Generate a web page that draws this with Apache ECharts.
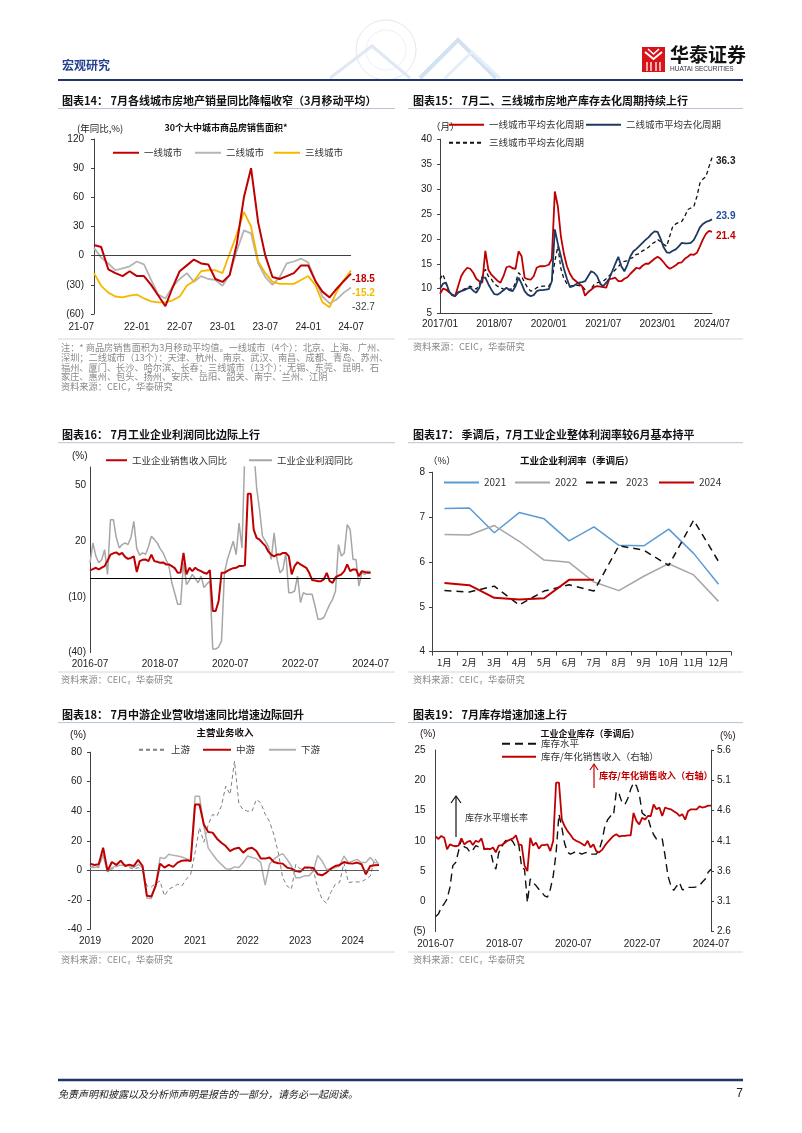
<!DOCTYPE html>
<html><head><meta charset="utf-8">
<script src="https://cdn.jsdelivr.net/npm/echarts@6/dist/echarts.min.js"></script>
<style>html,body{margin:0;padding:0;background:#fff}#c{width:802px;height:1133px}</style>
</head><body><div id="c"></div>
<script>
// ---------- DATA ----------
// Chart 14: 2021-07 .. 2024-07 (monthly)
const c14Tier1 = [11, 9, -14, -18, -21, -16, -21, -21, -30, -41, -52, -33, -16, -10, -4, -8, -9, -24, -27, -20, 12, 60, 90, 34, 0, -22, -24, -21, -18, -10, -10, -26, -37, -43, -34, -26, -18.5];
const c14Tier2 = [8, -2, -8, -15, -13, -11, -6, -9, -25, -40, -44, -32, -24, -18, -27, -21, -24, -25, -31, -20, 5, 26, 23, -8, -22, -30, -22, -8, -6, -3, -7, -25, -42, -49, -45, -38, -32.7];
const c14Tier3 = [-18, -31, -38, -42, -43, -41, -40, -44, -47, -48, -48, -46, -42, -31, -26, -16, -15, -15, -18, 2, 22, 45, 30, -6, -18, -27, -29, -29, -29, -25, -21, -30, -48, -53, -37, -25, -15.2];
// Chart 15: 2017/01 .. 2024/07
const c15Tier1 = [9, 10, 9.8, 9.3, 8.8, 8.5, 10.5, 12.5, 13.5, 14.2,
  14, 13.2, 12, 11.5, 11.2, 17.6, 13.8, 12.8, 12.2, 11.6,
  11.2, 12.5, 14.3, 14.5, 14.1, 14, 17.5, 16.5, 12.2, 11.9,
  11.8, 12.5, 14.2, 14.5, 14.5, 14.6, 14.8, 16, 29.5, 26.5,
  20.5, 17, 14.5, 13, 12, 11.5, 11, 10.5, 8.6, 9.3,
  9.8, 10.3, 10.5, 10.4, 10.3, 10.2, 11.9, 12, 12.2, 11.5,
  11.5, 12, 12.3, 13, 13.6, 14.2, 14, 14.6, 15, 15,
  15.5, 16, 16.4, 16, 15.3, 14.5, 14, 14.3, 14.7, 15.2,
  15.3, 16, 16.4, 16.9, 16.8, 17.2, 18.5, 19.9, 21, 21.6,
  21.4];
const c15Tier2 = [10, 11, 11.2, 9.5, 8.7, 8.5, 9.2, 9.5, 9.7, 10,
  10.2, 9.6, 9.2, 10.2, 12.2, 12.2, 10.9, 9.8, 8.9, 8.8,
  9.2, 9.7, 10.2, 9.7, 9.5, 10.5, 12.2, 11, 9.5, 8.8,
  8.5, 8.7, 9.5, 9.7, 9.7, 9.8, 9.9, 11.5, 21.9, 19,
  16.5, 14, 12, 10.3, 10.5, 10.9, 11.2, 11.3, 11.5, 12.5,
  13.5, 13.2, 12.5, 11, 10.5, 11.2, 12, 13.5, 15, 16.4,
  14.5, 13.5, 14.8, 16.5, 17.5, 18, 18.6, 19.2, 19.8, 20.3,
  21, 21.5, 21.4, 20, 18.3, 17.3, 17.2, 17.6, 17.9, 18.5,
  19.2, 19.1, 19.1, 19.2, 19.8, 21, 22.3, 23, 23.4, 23.6,
  23.9];
const c15Tier3 = [11.9, 12.9, 11, 9.2, 8.8, 8.5, 9.3, 9.6, 9.9, 10.2,
  10.5, 10.2, 9.9, 10.8, 12.5, 13.9, 12.5, 11.9, 11, 10.5,
  10.2, 9.9, 9.8, 9.9, 9.9, 11.2, 13.2, 12.5, 11.2, 10.2,
  9.5, 9.7, 10.2, 10.4, 10.5, 10.5, 10.5, 11.5, 15.5, 18.5,
  14, 12, 11, 10.5, 10.6, 10.7, 10.6, 10.5, 9.8, 9.2,
  10, 10.8, 11.2, 11.3, 11.5, 12, 12.6, 13.2, 13.8, 14.4,
  15.2, 15.5, 15.6, 16.1, 16.3, 16.9, 17, 17.6, 17.9, 18.3,
  19, 19.3, 19.9, 19.4, 18.9, 18.5, 20.5, 22.5, 23, 23.3,
  23.5, 24.5, 25.9, 26.2, 26.5, 28.5, 31.2, 32, 32.5, 34.5,
  36.3];
// Chart 16: 2016-07 .. 2024-07
const c16Revenue = [4.3, 5, 5.7, 4.8, 5.8, 6.6, 9.5, 12.8, 13.5, 14,
  12.8, 13.7, 11.6, 10.5, 11, 11.9, 3.4, 9.3, 10, 10.2,
  9.3, 12.8, 9.3, 8.9, 8.4, 8.6, 7.5, 7.5, 6.6, 5.5,
  3, 3.2, 13.7, 2.1, 5.7, 3.9, 5.7, 4.5, 3.9, 3,
  2.5, 4.5, -17.6, -17.6, -12.2, 3, 3, 4, 4.8, 5.5,
  5.7, 6.6, 6.6, 7, 45.6, 45.6, 26.3, 21.8, 20.9, 19.1,
  17.5, 14.5, 12.8, 11.9, 12.8, 12.8, 13.7, 13.7, 12, 2.1,
  6.6, 8.7, 7.5, 6.6, 5.7, 3, -0.9, -1.2, -1.5, -1.5,
  -0.5, 3, -1.5, -2.4, 0.5, 1.5, 2.1, 3.9, 7.5, 3.9,
  4.8, 4.8, 1.2, 3.9, 3.4, 3, 3];
const c16Profit = [8.4, 19.1, 12, 8.4, 10, 15.5, 2.1, 31.6, 31.6, 22,
  16.4, 18.2, 19.1, 18.2, 22, 30.7, 16, 12.5, 13.7, 13,
  17, 22.7, 21, 19.1, 16, 13.7, 10, 6.6, -2.4, -8,
  -14, -14, 8.4, -3.3, -1, 2.1, 0, -2.4, 1.2, -5,
  -3, -1.5, -38.1, -38.1, -37, -33.7, 3, 10.2, 15, 20,
  12.8, 29.8, 16.4, 70, 110, 90, 70, 49, 37, 22.7,
  20, 17.3, 10.2, 24.5, 10.2, 3, 4.8, 13.7, -7.7, -7.7,
  -6.8, 1.2, -13, -7.7, -8.6, -8.6, -8.6, -15, -22, -22,
  -21.1, -17.6, -14, -11.3, -6.8, 18.2, 12, 13.7, 29, 26.3,
  10.2, 10.2, -4.1, 3, 2.1, 3.9, 3.4];
// Chart 17: profit margin by month
const c17Months = ['1月','2月','3月','4月','5月','6月','7月','8月','9月','10月','11月','12月'];
const c17Y2021 = [7.19, 7.2, 6.65, 7.1, 6.96, 6.47, 6.78, 6.37, 6.36, 6.73, 6.19, 5.5];
const c17Y2022 = [6.61, 6.6, 6.81, 6.46, 6.04, 5.99, 5.55, 5.36, 5.68, 5.96, 5.71, 5.12];
const c17Y2023 = [5.36, 5.33, 5.46, 5.04, 5.35, 5.49, 5.35, 6.36, 6.26, 5.92, 6.93, 6.01];
const c17Y2024 = [5.53, 5.48, 5.2, 5.16, 5.19, 5.6, 5.6];
// Chart 18: 2019-01 .. 2024-07
const c18Up = [1.8, 2.9, 1.8, 10.8, 0.2, 0.7, 2.3, 4, 2.9, 1.8, 0.7, 1.8, -0.5,
  -10.6, -11.3, -9, -7.2, -17.3, -12.8, -11.3, -9.5, -10.6, -6.1, -2.7,
  12, 29, 19, 31, 37.8, 36.7, 43.5, 57, 51.4, 73.9, 45, 41, 40, 40, 48, 45.7, 38, 33, 24, 12, -5, -10.6, -12.8, 4, 1, 2, 1, 0, -12, -19.6, -22.3, -15, -9.5, -8.3, 5, -8.3, -7.9, -7.9, -7.9, -6, -4, 8, 4];
const c18Mid = [4.5, 3.6, 4, 15.3, -0.5, 5.6, 3.6, 6.5, 2.9, 3.8, 2.9, 7, 2.9,
  -17.3, -17.8, -10.6, 4.5, 1.8, 3.6, 2.3, 5.2, 6.5, 6.8, 6.3,
  44.6, 44.6,
  31, 25.9, 25.5, 21.4, 18.7, 16.4, 13, 14.6, 15.3, 11.9, 14.6, 15.3, 13, 7.9, 7.9, 8.6,
  5.6, 4.7, 4.5, 1.8, 1.1, -0.5, -1.1, 1.8, 1.8, 1.6, -2.7, -3.4, -1.6, 1.1, 2.9, 3.6, 5.6, 4.7, 4.5, 5.2, 4.1, -2.7, 2.9, 3.4, 3.6];
const c18Down = [1.8, 1.8, 2.9, 10, -1.1, 1.8, 2.9, 3.4, 3.6, 2.9, 1.8, 4, 1.8,
  -18.9, -19.1, -9.5, 8.6, 7.9, 10.8, 10.1, 9.7, 9, 7.9, 6.3,
  50.2, 50.2, 30, 15, 10.8, 7, 4, 1.1, 0.7, 2.3, 1.8, 5.2, 9.7, 8.6, 7.9, 5.2, -10, 4, 7.4, 9.7, 11.3, 7.4, 2.9, -5, -5, -3.8, -3.8, -0.5, 10.1, 6.3, 0.7, 0.7, 1.8, 2.9, 9.7, 5.2, 6.3, 7.4, 5.2, 5.2, 8.6, 5.2, 4.7];
// Chart 19: 2016-07 .. 2024-07
const c19Level = [-2.5, -2.1, -1, -0.4, 0.4, 2.3, 5.9, 6.4, 8.3, 10.3,
  9, 8.8, 8.1, 8.5, 9.2, 9, 8.9, 8.6, 8.7, 8.6,
  6.5, 5.3, 8, 8.9, 9.8, 10.3, 10.4, 9.8, 8.9, 9.4,
  5.6, 5.3, -0.2, 3.7, 3.1, 2.6, 2, 1.5, 0.9, 0.7,
  2, 4.2, 8, 14.4, 12.2, 9.5, 8.1, 7.8, 8, 8.3,
  8, 7.8, 8, 8.1, 7.8, 7.8, 7.8, 8.5, 10, 12.4,
  13.5, 14.1, 14.1, 18.2, 17.7, 16.3, 16, 17, 18.5, 19.6,
  19.1, 17.7, 14.6, 14.2, 13.8, 12.2, 11, 10.3, 10.3, 10.3,
  7.5, 4.2, 2.6, 1.8, 2.5, 3.1, 1.9, 2, 2.3, 2.3,
  2.3, 2.4, 2.6, 3.2, 3.7, 4.8, 5.3];
const c19Ratio = [4.17, 4.13, 4.18, 4.15, 3.96, 4.04, 4.02, 4.01, 4.02, 4.14,
  4.04, 4.08, 4.1, 4.03, 4.1, 4.08, 4.14, 3.96, 3.97, 3.96,
  3.99, 3.91, 4.02, 4.03, 4.06, 4.1, 4.12, 4.14, 4.19, 4.04,
  4.03, 3.69, 3.6, 4.15, 4.02, 4.07, 3.97, 4.03, 4.03, 4.04,
  3.93, 4.1, 5.06, 5.06, 4.45, 4.34, 4.26, 4.2, 4.13, 4.1,
  4.08, 4.05, 4.02, 4.1, 3.99, 4.04, 3.93, 3.91, 3.95, 4.02,
  4.08, 4.13, 4.18, 4.21, 4.17, 4.18, 4.18, 4.19, 4.19, 4.56,
  4.43, 4.37, 4.48, 4.45, 4.51, 4.51, 4.7, 4.62, 4.65, 4.51,
  4.65, 4.63, 4.62, 4.59, 4.56, 4.51, 4.54, 4.45, 4.59, 4.62,
  4.62, 4.62, 4.67, 4.65, 4.66, 4.68, 4.68];

// month category builder
function months(y, m, n, fmt) {
  const out = [];
  for (let i = 0; i < n; i++) {
    out.push(fmt(y, m));
    m++; if (m > 12) { m = 1; y++; }
  }
  return out;
}
const pad = v => (v < 10 ? '0' + v : '' + v);
const c14Cats = months(2021, 7, c14Tier1.length, (y, m) => String(y).slice(2) + '-' + pad(m));
const c15Cats = months(2017, 1, c15Tier1.length, (y, m) => y + '/' + pad(m));
const c16Cats = months(2016, 7, c16Revenue.length, (y, m) => y + '-' + pad(m));
const c18Cats = months(2019, 1, c18Mid.length, (y, m) => y + '-' + pad(m));
const c19Cats = months(2016, 7, c19Level.length, (y, m) => y + '-' + pad(m));

// ---------- STYLE ----------
const NUM = '"Liberation Sans", Arial, sans-serif';
const CJK = '"Noto Sans CJK SC", "Noto Sans", sans-serif';
const RED = '#c00000';
const YEL = '#f5b800';
const NAVY = '#1f3864';
const AX = '#404040';

const paren = v => (v < 0 ? '(' + (-v) + ')' : '' + v);

function xCat(gi, data, interval, opt) {
  opt = opt || {};
  return Object.assign({
    type: 'category', gridIndex: gi, data: data, boundaryGap: false,
    axisLine: { show: false, onZero: false, lineStyle: { color: AX } },
    axisTick: { show: false },
    axisLabel: { interval: interval, fontSize: 10, color: '#222', fontFamily: NUM, margin: opt.margin || 7, formatter: opt.fmt, alignMinLabel: opt.alignMin },
    splitLine: { show: false }
  }, opt.extra || {});
}
function yVal(gi, min, max, interval, fmt, opt) {
  opt = opt || {};
  return Object.assign({
    type: 'value', gridIndex: gi, min: min, max: max, interval: interval,
    axisLine: { show: true, lineStyle: { color: AX } },
    axisTick: { show: true, length: 3, lineStyle: { color: AX } },
    axisLabel: { fontSize: 10, color: '#222', fontFamily: NUM, margin: opt.margin || 8, formatter: fmt, showMaxLabel: opt.showMax !== false },
    splitLine: { show: false }
  }, opt.extra || {});
}
function line(name, data, xi, yi, color, width, type, extra) {
  return Object.assign({
    type: 'line', name: name, data: data, xAxisIndex: xi, yAxisIndex: yi,
    symbol: 'none', showSymbol: false, smooth: false, silent: true,
    lineStyle: { color: color, width: width, type: type || 'solid' },
    itemStyle: { color: color },
    emphasis: { disabled: true }
  }, extra || {});
}
function zeroLine(color) {
  return { silent: true, symbol: ['none', 'none'], label: { show: false },
    lineStyle: { color: color, width: 1, type: 'solid' }, emphasis: { disabled: true }, data: [{ yAxis: 0 }] };
}
function endLab(color, dx, dy, bold) {
  return { show: true, formatter: p => p.value, offset: [dx, dy], color: color,
    fontSize: 10, fontWeight: bold ? 'bold' : 'normal', fontFamily: NUM, distance: 3 };
}
function leg(name, left, cy, w, fontSize) {
  return { data: [name], left: left, top: cy - 5, itemWidth: w, itemHeight: 10, padding: 0,
    selectedMode: false, orient: 'horizontal',
    itemStyle: { color: 'rgba(0,0,0,0)', borderColor: 'rgba(0,0,0,0)', borderWidth: 0 },
    textStyle: { fontSize: fontSize || 9.5, color: '#333', fontFamily: CJK } };
}

// ---------- GRAPHICS (page text) ----------
const G = [];
function txt(x, y, s, o) {
  o = o || {};
  G.push({ type: 'text', x: x, y: y, silent: true, style: {
    text: s, fill: o.fill || '#222', fontSize: o.size || 10, fontFamily: o.family || CJK,
    fontWeight: o.weight || 'normal', fontStyle: o.style || 'normal',
    align: o.align || 'left', verticalAlign: 'middle' } });
}
function hline(x1, x2, y, color, w) {
  G.push({ type: 'line', silent: true, shape: { x1: x1, y1: y, x2: x2, y2: y }, style: { stroke: color, lineWidth: w } });
}
// header decoration
G.push({ type: 'circle', silent: true, shape: { cx: 386, cy: 50, r: 30 }, style: { fill: 'none', stroke: '#e3e8ef', lineWidth: 1 } });
G.push({ type: 'circle', silent: true, shape: { cx: 386, cy: 50, r: 20 }, style: { fill: 'none', stroke: '#edf1f6', lineWidth: 1 } });
G.push({ type: 'polyline', silent: true, shape: { points: [[330, 78], [372, 46], [410, 78]] }, style: { stroke: '#dfe8f3', lineWidth: 3, fill: 'none' } });
G.push({ type: 'polyline', silent: true, shape: { points: [[420, 78], [458, 40], [496, 78]] }, style: { stroke: '#d2e1f2', lineWidth: 4, fill: 'none' } });
G.push({ type: 'polyline', silent: true, shape: { points: [[445, 78], [472, 52], [500, 78]] }, style: { stroke: '#e6eef7', lineWidth: 3, fill: 'none' } });
txt(62, 65, '宏观研究', { size: 12, weight: 'bold', fill: '#23408e' });
// logo
G.push({ type: 'rect', silent: true, shape: { x: 642, y: 47, width: 23, height: 25 }, style: { fill: '#d7141a' } });
G.push({ type: 'polyline', silent: true, shape: { points: [[645, 52], [653.5, 59], [662, 52]] }, style: { stroke: '#fff', lineWidth: 2, fill: 'none' } });
G.push({ type: 'polyline', silent: true, shape: { points: [[648, 49], [653.5, 54], [659, 49]] }, style: { stroke: '#fff', lineWidth: 1.5, fill: 'none' } });
[647, 651, 656, 660].forEach(x => G.push({ type: 'line', silent: true, shape: { x1: x, y1: 62, x2: x, y2: 71 }, style: { stroke: '#fff', lineWidth: 1.3 } }));
txt(670, 55, '华泰证券', { size: 19, weight: 'bold', fill: '#111' });
txt(670, 69.5, 'HUATAI SECURITIES', { size: 6.5, family: NUM, fill: '#333' });
hline(58, 743, 80, '#1d3768', 2);
// titles
const TS = { size: 11, weight: 'bold', fill: '#111' };
txt(62, 100.5, '图表14： 7月各线城市房地产销量同比降幅收窄（3月移动平均）', TS);
txt(413, 100.5, '图表15： 7月二、三线城市房地产库存去化周期持续上行', TS);
txt(62, 435, '图表16： 7月工业企业利润同比边际上行', TS);
txt(413, 435, '图表17： 季调后，7月工业企业整体利润率较6月基本持平', TS);
txt(62, 715, '图表18： 7月中游企业营收增速同比增速边际回升', TS);
txt(413, 715, '图表19： 7月库存增速加速上行', TS);
[108.5, 442.7, 722.6].forEach(y => { hline(58, 395, y, '#b8c4d4', 1); hline(408, 743, y, '#b8c4d4', 1); });
[339, 672, 952].forEach(y => { hline(58, 395, y, '#d0d8e2', 1); hline(408, 743, y, '#d0d8e2', 1); });
// notes and sources
const NS = { size: 9.2, fill: '#8a8a8a' };
txt(61, 347.5, '注：* 商品房销售面积为3月移动平均值。一线城市（4个）：北京、上海、广州、', NS);
txt(61, 357.5, '深圳；二线城市（13个）：天津、杭州、南京、武汉、南昌、成都、青岛、苏州、', NS);
txt(61, 367.5, '福州、厦门、长沙、哈尔滨、长春；三线城市（13个）：无锡、东莞、昆明、石', NS);
txt(61, 377, '家庄、惠州、包头、扬州、安庆、岳阳、韶关、南宁、兰州、江阴', NS);
txt(61, 386.5, '资料来源：CEIC，华泰研究', NS);
txt(413, 347, '资料来源：CEIC，华泰研究', NS);
txt(61, 679.5, '资料来源：CEIC，华泰研究', NS);
txt(413, 679.5, '资料来源：CEIC，华泰研究', NS);
txt(61, 959.5, '资料来源：CEIC，华泰研究', NS);
txt(413, 959.5, '资料来源：CEIC，华泰研究', NS);
// chart inner captions
txt(77, 128, '(年同比,%)', { size: 9.5 });
txt(226, 128, '30个大中城市商品房销售面积*', { size: 9, weight: 'bold', align: 'center', fill: '#111' });
txt(431, 126, '（月）', { size: 9.5 });
txt(72, 456.6, '(%)', { size: 10, family: NUM });
txt(428, 460, '（%）', { size: 9.5 });
txt(577, 460, '工业企业利润率（季调后）', { size: 9.5, weight: 'bold', align: 'center', fill: '#111' });
txt(70, 735, '(%)', { size: 10.5, family: NUM });
txt(225, 732.6, '主营业务收入', { size: 9.5, weight: 'bold', align: 'center', fill: '#111' });
txt(420, 734, '(%)', { size: 10, family: NUM });
txt(720, 736.6, '(%)', { size: 10, family: NUM });
txt(590, 734, '工业企业库存（季调后）', { size: 9, weight: 'bold', align: 'center', fill: '#111' });
// chart 19 annotations
G.push({ type: 'line', silent: true, shape: { x1: 456, y1: 837, x2: 456, y2: 797 }, style: { stroke: '#111', lineWidth: 1.2 } });
G.push({ type: 'polyline', silent: true, shape: { points: [[451, 803], [456, 796], [461, 803]] }, style: { stroke: '#111', lineWidth: 1.2, fill: 'none' } });
txt(465, 818, '库存水平增长率', { size: 9, fill: '#333' });
G.push({ type: 'line', silent: true, shape: { x1: 594, y1: 788, x2: 594, y2: 765 }, style: { stroke: RED, lineWidth: 1.2 } });
G.push({ type: 'polyline', silent: true, shape: { points: [[590, 770], [594, 764], [598, 770]] }, style: { stroke: RED, lineWidth: 1.2, fill: 'none' } });
txt(599, 776, '库存/年化销售收入（右轴）', { size: 9.2, weight: 'bold', fill: RED });
// footer
hline(58, 743, 1080, '#1d3768', 2.5);
txt(58, 1094, '免责声明和披露以及分析师声明是报告的一部分，请务必一起阅读。', { size: 10, style: 'italic', fill: '#222' });
txt(743, 1094, '7', { size: 12, family: NUM, align: 'right', fill: '#222' });

// ---------- OPTION ----------
const option = {
  animation: false,
  backgroundColor: '#fff',
  textStyle: { fontFamily: CJK },
  grid: [
    { left: 94, top: 139, width: 257, height: 175, outerBoundsMode: 'none', containLabel: false },
    { left: 440, top: 139.2, width: 272, height: 174.4, outerBoundsMode: 'none', containLabel: false },
    { left: 90, top: 467, width: 280.6, height: 185.6, outerBoundsMode: 'none', containLabel: false },
    { left: 432, top: 472.2, width: 299, height: 179.4, outerBoundsMode: 'none', containLabel: false },
    { left: 90, top: 752.2, width: 289, height: 177.1, outerBoundsMode: 'none', containLabel: false },
    { left: 435.6, top: 750, width: 275.4, height: 181.6, outerBoundsMode: 'none', containLabel: false }
  ],
  xAxis: [
    xCat(0, c14Cats, 5, { margin: 8, alignMin: 'right' }),
    xCat(1, c15Cats, 17, { margin: 6, extra: { axisLine: { show: true, onZero: false, lineStyle: { color: AX } } } }),
    xCat(2, c16Cats, 23, { margin: 7 }),
    { type: 'category', gridIndex: 3, data: c17Months, boundaryGap: true,
      axisLine: { show: true, onZero: false, lineStyle: { color: AX } },
      axisTick: { show: true, length: 4, lineStyle: { color: AX } },
      axisLabel: { interval: 0, fontSize: 9.5, color: '#222', fontFamily: CJK, margin: 6 }, splitLine: { show: false } },
    xCat(4, c18Cats, 11, { margin: 7, fmt: v => v.slice(0, 4) }),
    xCat(5, c19Cats, 23, { margin: 8 })
  ],
  yAxis: [
    yVal(0, -60, 120, 30, paren, { margin: 10 }),
    yVal(1, 5, 40, 5, v => '' + v, { margin: 8 }),
    yVal(2, -40, 60, 30, paren, { margin: 4, showMax: false, extra: { axisTick: { show: false } } }),
    yVal(3, 4, 8, 1, v => '' + v, { margin: 7 }),
    yVal(4, -40, 80, 20, v => '' + v, { margin: 8 }),
    yVal(5, -5, 25, 5, paren, { margin: 10, extra: { axisTick: { show: false } } }),
    Object.assign(yVal(5, 2.6, 5.6, 0.5, v => v.toFixed(1), { margin: 6 }), { position: 'right' })
  ],
  legend: [
    leg('一线城市', 112, 153, 26), leg('二线城市', 194, 153, 26), leg('三线城市', 273, 153, 26),
    leg('一线城市平均去化周期', 448, 125, 35), leg('二线城市平均去化周期', 585, 125, 35), leg('三线城市平均去化周期', 448, 143, 35),
    leg('工业企业销售收入同比', 105, 460.5, 21), leg('工业企业利润同比', 248, 460.5, 23),
    leg('2021', 443, 482.6, 35, 10), leg('2022', 514, 482.6, 35, 10), leg('2023', 585, 482.6, 35, 10), leg('2024', 658, 482.6, 35, 10),
    leg('上游', 138, 750, 27), leg('中游', 202, 750, 28), leg('下游', 268, 750, 27),
    leg('库存水平', 501, 744, 34), leg('库存/年化销售收入（右轴）', 501, 757, 34)
  ],
  series: [
    // chart 14
    line('二线城市', c14Tier2, 0, 0, '#b4b4b4', 1.8, 'solid', { endLabel: endLab('#444', -2, 19.5, false) }),
    line('三线城市', c14Tier3, 0, 0, YEL, 1.8, 'solid', { endLabel: endLab(YEL, -2, 22.5, true) }),
    line('一线城市', c14Tier1, 0, 0, RED, 2, 'solid', { endLabel: endLab(RED, -2, 6, true), markLine: zeroLine('#404040') }),
    // chart 15
    line('三线城市平均去化周期', c15Tier3, 1, 1, '#111', 1.3, [4, 3], { endLabel: endLab('#222', 1, 4, true) }),
    line('一线城市平均去化周期', c15Tier1, 1, 1, RED, 1.8, 'solid', { endLabel: endLab(RED, 1, 4, true) }),
    line('二线城市平均去化周期', c15Tier2, 1, 1, NAVY, 1.8, 'solid', { endLabel: endLab('#1f4e9a', 1, -3, true) }),
    // chart 16
    line('工业企业利润同比', c16Profit, 2, 2, '#a6a6a6', 1.5, 'solid', { markLine: zeroLine('#000') }),
    line('工业企业销售收入同比', c16Revenue, 2, 2, RED, 2, 'solid'),
    // chart 17
    line('2021', c17Y2021, 3, 3, '#5b9bd5', 1.5),
    line('2022', c17Y2022, 3, 3, '#a6a6a6', 1.5),
    line('2023', c17Y2023, 3, 3, '#111', 1.5, [7, 5]),
    line('2024', c17Y2024, 3, 3, RED, 2),
    // chart 18
    line('上游', c18Up, 4, 4, '#7f7f7f', 1, [4, 3], { markLine: zeroLine('#595959') }),
    line('下游', c18Down, 4, 4, '#b0b0b0', 1.5),
    line('中游', c18Mid, 4, 4, RED, 2),
    // chart 19
    line('库存水平', c19Level, 5, 5, '#111', 1.4, [8, 5]),
    line('库存/年化销售收入（右轴）', c19Ratio, 5, 6, RED, 1.8)
  ],
  graphic: { elements: G }
};
const chart = echarts.init(document.getElementById('c'), null, { renderer: 'canvas' });
chart.setOption(option);
</script>
</body></html>
